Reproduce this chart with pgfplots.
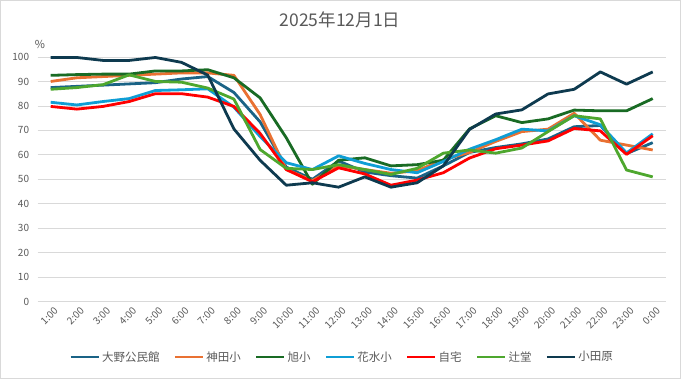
\documentclass[border=0pt]{standalone}
\usepackage{fontspec}
\setmainfont{Noto Sans CJK JP}
\usepackage{pgfplots}
\usepackage{pgfplotstable}
\pgfplotsset{compat=1.18}
\definecolor{txt}{HTML}{595959}
\definecolor{gridc}{HTML}{D9D9D9}
\definecolor{c1}{HTML}{1A6386}
\definecolor{c2}{HTML}{E97132}
\definecolor{c3}{HTML}{196B24}
\definecolor{c4}{HTML}{0F9ED5}
\definecolor{c5}{HTML}{FF0000}
\definecolor{c6}{HTML}{4EA72E}
\definecolor{c7}{HTML}{0E3A4F}
\pgfplotstableread{
h  s1   s2   s3   s4   s5   s6   s7
1  87.5 90   92.5 81.5 79.8 86.8 99.8
2  88   91.5 92.8 80.4 78.7 87.5 99.8
3  88.5 92   93   81.8 79.8 88.7 98.6
4  89   92.5 93   83   81.8 92.7 98.6
5  89.5 93   94.3 86.3 85   90   99.8
6  91   93.5 94.3 86.6 85   89.7 97.8
7  92   93.5 94.8 87   83.6 87.3 92.6
8  85.5 92.5 91.5 79.5 79.8 82.8 70.6
9  73.5 76.5 83.3 67.5 68.8 62.2 57.8
10 55   54   67   56.8 54   54.5 47.6
11 50   49.5 48   54   49   54   48.6
12 57.5 55.5 57.8 59.6 54.7 56   46.8
13 53   54   58.8 56.5 52.2 54   51
14 51.5 52.5 55.5 54   47.6 52   46.8
15 50.5 53.5 56   52.7 49.7 54.5 48.6
16 55.5 58   57.8 57.3 52.7 60.7 55.5
17 61   61   70.6 62.3 58.7 62   70.4
18 63   65.5 76   66.2 62.5 60.7 76.7
19 64.5 69.5 73.2 70.5 64   62.8 78.4
20 66.5 70.5 74.7 69.8 65.7 69.5 84.9
21 71.5 77   78.3 76   70.8 76   86.8
22 72   66   78   72.3 69.8 74.7 93.9
23 60.5 64   78   60.8 60.2 53.8 88.9
24 65   62   83   68.6 67.8 51   93.9
}\data
\begin{document}
\begin{tikzpicture}
\useasboundingbox (-37.6pt,-77.3pt) rectangle (643.4pt,301.7pt);
\draw[gridc, line width=0.8pt] (-37.1pt,-76.8pt) rectangle (642.9pt,301.2pt);
\begin{axis}[
 at={(0pt,0pt)}, anchor=south west,
 width=628.2pt, height=244.7pt, scale only axis,
 xmin=0.5, xmax=24.5, ymin=0, ymax=100,
 xtick={1,...,24},
 xticklabels={1:00,2:00,3:00,4:00,5:00,6:00,7:00,8:00,9:00,10:00,11:00,12:00,13:00,14:00,15:00,16:00,17:00,18:00,19:00,20:00,21:00,22:00,23:00,0:00},
 ytick={0,10,...,100},
 axis line style={draw=none},
 major tick length=0pt,
 ymajorgrids, grid style={gridc, line width=0.8pt},
 tick label style={font=\fontsize{10}{12}\selectfont, text=txt},
 xticklabel style={rotate=45, anchor=north east, inner sep=1pt, yshift=-4pt},
 yticklabel style={xshift=-5pt},
 /pgf/number format/assume math mode=true,
 legend style={at={(0.4846,-0.226)}, anchor=center, draw=none, fill=none,
   font=\fontsize{11.5}{13}\selectfont, text=txt, legend columns=-1,
   /tikz/every even column/.append style={column sep=12pt}},
 legend image code/.code={\draw[#1] (0pt,0pt) -- (28pt,0pt);},
 every axis plot/.append style={line width=2.8pt, line join=round},
 clip=false,
]
\addplot[c1] table[x=h,y=s1] {\data};
\addlegendentry{大野公民館}
\addplot[c2] table[x=h,y=s2] {\data};
\addlegendentry{神田小}
\addplot[c3] table[x=h,y=s3] {\data};
\addlegendentry{旭小}
\addplot[c4] table[x=h,y=s4] {\data};
\addlegendentry{花水小}
\addplot[c5] table[x=h,y=s5] {\data};
\addlegendentry{自宅}
\addplot[c6] table[x=h,y=s6] {\data};
\addlegendentry{辻堂}
\addplot[c7] table[x=h,y=s7] {\data};
\addlegendentry{小田原}
\end{axis}
\node[text=txt, font=\fontsize{11}{13}\selectfont] at (2.4pt,257.7pt) {\%};
\node[text=txt, font=\fontsize{17.5}{20}\selectfont] at (302.4pt,281.7pt) {2025年12月1日};
\end{tikzpicture}
\end{document}
